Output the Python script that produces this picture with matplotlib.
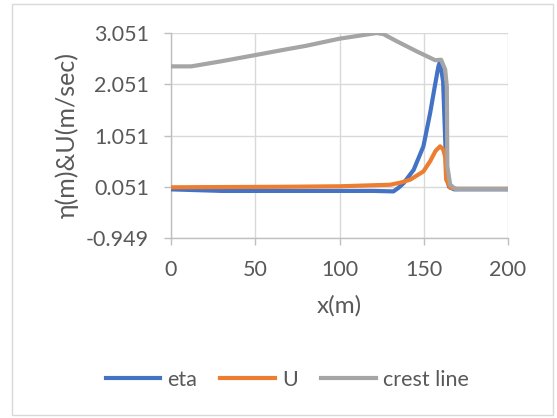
import matplotlib
matplotlib.use("Agg")
from matplotlib import pyplot as plt
from matplotlib.lines import Line2D

plt.rcParams['font.family'] = ['Lato', 'DejaVu Sans']

# crest line (gray)
crest_x = [0, 12, 30, 50, 64.7, 80, 100, 112, 122, 126, 134, 146, 156.8, 160.3, 162.7,
           163.7, 164, 165.7, 168.6, 175, 200]
crest_y = [2.40, 2.40, 2.50, 2.62, 2.71, 2.80, 2.94, 3.00, 3.051, 3.03, 2.89, 2.69, 2.52,
           2.53, 2.34, 2.01, 0.45, 0.09, 0.01, 0.01, 0.01]

# eta (blue)
eta_x = [0, 10, 30, 60, 100, 120, 132, 135, 138, 144, 149.8, 153.8, 156.5, 158.7, 159.7,
         161.5, 162.7, 163.5, 165, 168, 200]
eta_y = [0.0, -0.01, -0.03, -0.03, -0.03, -0.03, -0.04, 0.03, 0.12, 0.38, 0.84, 1.49, 2.0,
         2.40, 2.50, 2.1, 1.0, 0.3, 0.05, 0.0, 0.0]

# U (orange)
u_x = [0, 30, 64.7, 100, 120, 130, 136, 142, 149.8, 153.8, 157, 159.7, 161.5, 162.7,
       163.3, 165.7, 170, 200]
u_y = [0.04, 0.045, 0.05, 0.06, 0.08, 0.09, 0.13, 0.19, 0.35, 0.55, 0.75, 0.84, 0.78,
       0.64, 0.19, 0.03, 0.01, 0.01]

yticks = [-0.949, 0.051, 1.051, 2.051, 3.051]
xticks = [0, 50, 100, 150, 200]

blue = '#4472C4'
orange = '#ED7D31'
gray = '#A5A5A5'
grid_c = '#D9D9D9'
txt_c = '#595959'
lw = 3.0
fs = 15.5

fig = plt.figure(figsize=(5.57, 4.18), dpi=100)
ax = fig.add_axes([171/557, 1-238/418, (508-171)/557, (238-33)/418])

ax.plot(eta_x, eta_y, color=blue, lw=lw, solid_capstyle='round', zorder=3)
ax.plot(u_x, u_y, color=orange, lw=lw, solid_capstyle='round', zorder=4)
ax.plot(crest_x, crest_y, color=gray, lw=lw, solid_capstyle='round', zorder=5)

ax.set_xlim(0, 200)
ax.set_ylim(-0.949, 3.051)
ax.set_xticks(xticks)
ax.set_yticks(yticks)
ax.set_yticklabels(['%.3f' % v for v in yticks])
ax.grid(True, color=grid_c, lw=1)
ax.set_axisbelow(True)
for s in ['top', 'right']:
    ax.spines[s].set_visible(False)
for s in ['left', 'bottom']:
    ax.spines[s].set_color('#BFBFBF')
    ax.spines[s].set_linewidth(1)
ax.tick_params(axis='both', colors='#BFBFBF', labelcolor=txt_c, labelsize=fs,
               length=5, width=1)
ax.tick_params(axis='x', pad=11)
ax.tick_params(axis='y', pad=11)

ax.set_xlabel('x(m)', fontsize=17.5, color=txt_c, labelpad=11)
ax.set_ylabel('η(m)&U(m/sec)', fontsize=18, color=txt_c, labelpad=5)

handles = [Line2D([], [], color=c, lw=lw) for c in (blue, orange, gray)]
fig.legend(handles, ['eta', 'U', 'crest line'], loc='center', bbox_to_anchor=(287/557, 1-380/418),
           ncol=3, frameon=False, fontsize=15.5, labelcolor=txt_c, handlelength=2.55,
           handletextpad=0.3, columnspacing=1.1)

# outer chart border
fig.patches.append(plt.Rectangle((12/557, 3/418), 541/557, 411/418, transform=fig.transFigure,
                                 fill=False, edgecolor='#D9D9D9', lw=1))

fig.savefig('out.png', dpi=100)
